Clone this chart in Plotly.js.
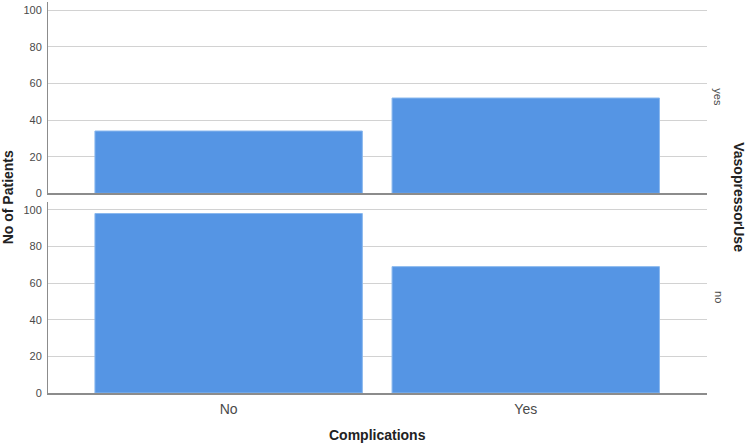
<!DOCTYPE html>
<html>
<head>
<meta charset="utf-8">
<script src="https://cdn.plot.ly/plotly-3.0.1.min.js"></script>
<style>html,body{margin:0;padding:0;background:#fff;}#chart{width:751px;height:445px;}</style>
</head>
<body>
<div id="chart"></div>
<script>
const categories = ['No', 'Yes'];
const vasopressorYes = [34, 52];
const vasopressorNo = [98, 69];
const panelLabels = ['yes', 'no'];
const yTicks = [0, 20, 40, 60, 80, 100];

const barColor = '#5595e4';
const font = 'Liberation Sans, Arial, sans-serif';

const traces = [
  {type: 'bar', x: categories, y: vasopressorYes, xaxis: 'x', yaxis: 'y',
   marker: {color: barColor, line: {color: '#8ab8ee', width: 1}}, hoverinfo: 'none'},
  {type: 'bar', x: categories, y: vasopressorNo, xaxis: 'x2', yaxis: 'y2',
   marker: {color: barColor, line: {color: '#8ab8ee', width: 1}}, hoverinfo: 'none'}
];

const yAxisCommon = {
  range: [0, 104.4], tickvals: yTicks, ticks: '', showgrid: true, ticklabelstandoff: 3,
  gridcolor: '#d2d2d2', gridwidth: 1, showline: true, linecolor: '#8c8c8c', linewidth: 1,
  zeroline: false, tickfont: {family: font, size: 11, color: '#4a4a4a'}, fixedrange: true
};
const xAxisCommon = {
  type: 'category', range: [-0.608, 1.61], showline: true, linecolor: '#8c8c8c', linewidth: 1.5,
  ticks: '', showgrid: false, zeroline: false, fixedrange: true
};

const layout = {
  width: 751, height: 445,
  margin: {l: 48, r: 44, t: 2, b: 52},
  paper_bgcolor: '#fff', plot_bgcolor: '#fff',
  showlegend: false, bargap: 0.1,
  xaxis: Object.assign({}, xAxisCommon, {anchor: 'y', showticklabels: false}),
  yaxis: Object.assign({}, yAxisCommon, {domain: [0.5107, 1], anchor: 'x'}),
  xaxis2: Object.assign({}, xAxisCommon, {anchor: 'y2', showticklabels: true, ticklabelstandoff: 3,
    tickfont: {family: font, size: 14, color: '#4a4a4a'}}),
  yaxis2: Object.assign({}, yAxisCommon, {domain: [0, 0.489], anchor: 'x2'}),
  annotations: [
    {text: panelLabels[0], xref: 'paper', yref: 'y domain', x: 1.005, y: 0.5, xanchor: 'left', yanchor: 'middle',
     textangle: 90, showarrow: false, font: {family: font, size: 11, color: '#4a4a4a'}},
    {text: panelLabels[1], xref: 'paper', yref: 'y2 domain', x: 1.005, y: 0.5, xanchor: 'left', yanchor: 'middle',
     textangle: 90, showarrow: false, font: {family: font, size: 11, color: '#4a4a4a'}},
    {text: '<b>VasopressorUse</b>', xref: 'paper', yref: 'paper', x: 1.049, y: 0.5, xanchor: 'center', yanchor: 'middle',
     textangle: 90, showarrow: false, font: {family: font, size: 14, color: '#222'}},
    {text: '<b>No of Patients</b>', xref: 'paper', yref: 'paper', x: -0.061, y: 0.5, xanchor: 'center', yanchor: 'middle',
     textangle: -90, showarrow: false, font: {family: font, size: 14, color: '#222'}},
    {text: '<b>Complications</b>', xref: 'paper', yref: 'paper', x: 0.5, y: -0.108, xanchor: 'center', yanchor: 'middle',
     showarrow: false, font: {family: font, size: 14, color: '#222'}}
  ]
};

Plotly.newPlot('chart', traces, layout, {displayModeBar: false, staticPlot: true});
</script>
</body>
</html>
